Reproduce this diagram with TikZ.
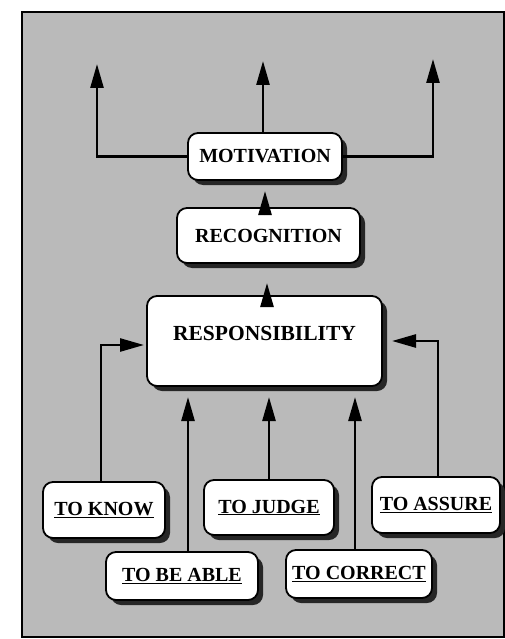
\documentclass[tikz,border=0pt]{standalone}
\usepackage{fontspec}
\setmainfont{Liberation Serif}
\usetikzlibrary{shadows,arrows.meta}
\begin{document}
\begin{tikzpicture}[x=1pt,y=-1pt,
  box/.style={draw=black, line width=1.8pt, fill=white, rounded corners=10pt,
    drop shadow={shadow xshift=5pt, shadow yshift=-5pt, fill=black!85, opacity=1},
    font=\bfseries\fontsize{20}{22}\selectfont, inner sep=0pt},
  conn/.style={line width=2.6pt, -{Triangle[length=24pt,width=13pt]}}]
\useasboundingbox (0,0) rectangle (505,639);
\fill[white] (0,0) rectangle (505,639);
\draw[line width=1.5pt, fill=black!27] (22,12) rectangle (504,637);
% nodes
\node[box, minimum width=154pt, minimum height=47pt] (mot) at (265,156.5) {MOTIVATION};
\node[box, minimum width=183pt, minimum height=55pt] (rec) at (268.5,235.5) {RECOGNITION};
\node[box, minimum width=235pt, minimum height=90pt, font=\bfseries\fontsize{21.5}{23}\selectfont] (res) at (264.5,341) {\raisebox{15pt}{RESPONSIBILITY}};
\node[box, minimum width=122pt, minimum height=56pt] (know) at (104,510) {\underline{TO KNOW}};
\node[box, minimum width=130pt, minimum height=55pt] (judge) at (269,507.5) {\underline{TO JUDGE}};
\node[box, minimum width=128pt, minimum height=56pt] (assure) at (436,505) {\underline{TO ASSURE}};
\node[box, minimum width=152pt, minimum height=48pt] (able) at (182,576) {\underline{TO BE ABLE}};
\node[box, minimum width=146pt, minimum height=48pt] (correct) at (359,574) {\underline{TO CORRECT}};
% arrow tips
\coordinate (tl) at (97,64);
\coordinate (tm) at (263,61);
\coordinate (tr) at (433,59);
\coordinate (trec) at (265,191);
\coordinate (tres) at (267,283);
\coordinate (tkn) at (144,345);
\coordinate (tas) at (392,341);
\coordinate (tab) at (188,397);
\coordinate (tju) at (269,397);
\coordinate (tco) at (355,397);
% connectors
\draw[conn] (mot.west) -| (tl);
\draw[conn] (mot.east) -| (tr);
\draw[conn] (mot.north -| tm) -- (tm);
\draw[conn] ([yshift=-8pt]rec.north -| trec) -- (trec);
\draw[conn] ([yshift=-10pt]res.north -| tres) -- (tres);
\draw[conn] (know.north -| 101,0) |- (tkn);
\draw[conn] (assure.north -| 438,0) |- (tas);
\draw[conn] (able.north -| tab) -- (tab);
\draw[conn] (judge.north -| tju) -- (tju);
\draw[conn] (correct.north -| tco) -- (tco);
\end{tikzpicture}
\end{document}
